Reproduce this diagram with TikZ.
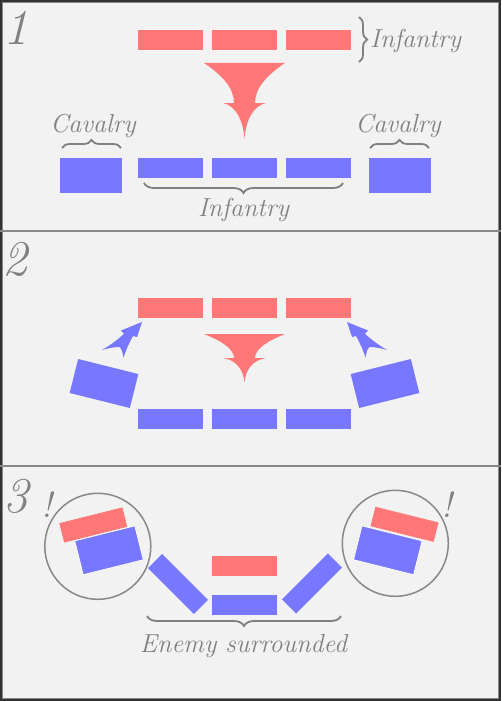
\documentclass[tikz,border=0pt]{standalone}
\usepackage{fontspec}
\usetikzlibrary{decorations.pathreplacing}
\definecolor{redu}{RGB}{255,119,119}
\definecolor{blueu}{RGB}{119,119,255}
\definecolor{txtgray}{RGB}{128,128,128}
\definecolor{bggray}{RGB}{242,242,242}
\definecolor{linegray}{RGB}{136,136,136}
\newcommand\funnelarrow[3]{%
  \pgfmathsetmacro\arwA{#1+0.3*(#2-#1)}%
  \pgfmathsetmacro\arwB{#1+0.625*(#2-#1)}%
  \pgfmathsetmacro\arwC{#2+0.08*(#3-#2)}%
  \pgfmathsetmacro\arwD{#2+0.47*(#3-#2)}%
  \fill[redu] (204,#1) -- (285,#1) .. controls (267,\arwA) and (255,\arwB) .. (255,#2)
    -- (266,#2) .. controls (253,\arwC) and (246,\arwD) .. (244.5,#3)
    .. controls (243,\arwD) and (236,\arwC) .. (223,#2)
    -- (234,#2) .. controls (234,\arwB) and (222,\arwA) .. (204,#1) -- cycle;}
\begin{document}
\begin{tikzpicture}[x=1pt,y=-1pt,
  redbox/.style={fill=redu, minimum width=65pt, minimum height=20pt, inner sep=0pt, outer sep=0pt},
  bluebox/.style={fill=blueu, minimum width=65pt, minimum height=20pt, inner sep=0pt, outer sep=0pt},
  cavbox/.style={fill=blueu, minimum width=62pt, minimum height=35pt, inner sep=0pt, outer sep=0pt},
  lbl/.style={text=txtgray, font=\fontsize{26}{30}\selectfont\itshape, inner sep=0pt},
  num/.style={text=txtgray, font=\fontsize{50}{55}\selectfont\itshape, inner sep=0pt, anchor=base west},
  bang/.style={text=txtgray, font=\fontsize{36}{40}\selectfont\itshape, inner sep=0pt, anchor=base},
  bracedeco/.style={draw=txtgray, line width=1.8pt, decorate, decoration={brace, amplitude=#1}},
  bracedeco/.default=8,
  ring/.style={draw=linegray, line width=1.5pt},
  bluearrow/.style={fill=blueu},
]
\useasboundingbox (0,0) rectangle (501,701);
\fill[bggray] (0,0) rectangle (501,701);
% frame and dividers
\draw[linegray, line width=1pt] (2.5,2.5) rectangle (498.5,698.5);
\draw[black!80, line width=1.6pt] (0.8,0.8) rectangle (500.2,700.2);
\draw[linegray, line width=2.2pt] (0,231) -- (501,231);
\draw[linegray, line width=2.2pt] (0,466) -- (501,466);

% ---------- Panel 1 ----------
\node[num] (n1) at (3,45) {1};
\node[redbox] (r11) at (170.5,40) {};
\node[redbox] (r12) at (244.5,40) {};
\node[redbox] (r13) at (318.5,40) {};
\draw[bracedeco=8] (359,17) -- (359,62);
\node[lbl, anchor=base west] (inftop) at (370,48) {Infantry};
\funnelarrow{63}{103}{139}
\node[cavbox] (c1l) at (91,175.5) {};
\node[bluebox] (b11) at (170.5,168) {};
\node[bluebox] (b12) at (244.5,168) {};
\node[bluebox] (b13) at (318.5,168) {};
\node[cavbox] (c1r) at (400,175.5) {};
\node[lbl, anchor=base] (cavl) at (93,132) {Cavalry};
\node[lbl, anchor=base] (cavr) at (398,132) {Cavalry};
\draw[bracedeco=8] (62,148) -- (121,148);
\draw[bracedeco=8] (370,148) -- (429,148);
\draw[bracedeco=10] (343,183) -- (144,183);
\node[lbl, anchor=base] (infbot) at (243.5,216) {Infantry};

% ---------- Panel 2 ----------
\node[num] (n2) at (2,275) {2};
\node[redbox] (r21) at (170.5,308) {};
\node[redbox] (r22) at (244.5,308) {};
\node[redbox] (r23) at (318.5,308) {};
\funnelarrow{334}{358}{382}
\node[cavbox, rotate=-14] (c2l) at (104,383.5) {};
\node[cavbox, rotate=14] (c2r) at (385,383.5) {};
\node[bluebox] (b21) at (170.5,419) {};
\node[bluebox] (b22) at (244.5,419) {};
\node[bluebox] (b23) at (318.5,419) {};
\fill[bluearrow] (102,350) .. controls (112,344) and (120,338) .. (124,333.5) -- (121,330.5) -- (142,322)
  -- (137,337) -- (133,336) .. controls (129,343) and (126,350) .. (123.5,357.5)
  .. controls (122.5,352) and (121.5,348.5) .. (119.5,347) .. controls (113,347) and (107,348.5) .. cycle;
\begin{scope}[shift={(489,0)}, xscale=-1]
\fill[bluearrow] (102,350) .. controls (112,344) and (120,338) .. (124,333.5) -- (121,330.5) -- (142,322)
  -- (137,337) -- (133,336) .. controls (129,343) and (126,350) .. (123.5,357.5)
  .. controls (122.5,352) and (121.5,348.5) .. (119.5,347) .. controls (113,347) and (107,348.5) .. cycle;
\end{scope}

% ---------- Panel 3 ----------
\node[num] (n3) at (3,512) {3};
\node[bang] (bangl) at (47,517) {!};
\node[bang] (bangr) at (447,517) {!};
\node[redbox, rotate=14] (r3l) at (93.3,525) {};
\node[cavbox, rotate=14, draw=white, line width=0.8pt] (c3l) at (109,550.3) {};
\node[redbox, rotate=-14] (r3r) at (404.5,524.3) {};
\node[cavbox, rotate=-14, draw=white, line width=0.8pt] (c3r) at (387.8,550.3) {};
\node[ring, circle, minimum size=106pt, inner sep=0pt] (ringl) at (97.8,546.3) {};
\node[ring, circle, minimum size=106pt, inner sep=0pt] (ringr) at (395.3,543.3) {};
\node[bluebox, rotate=-45] (d3l) at (178,584) {};
\node[bluebox, rotate=45] (d3r) at (312,583.5) {};
\node[redbox] (r3m) at (244.5,566) {};
\node[bluebox] (b3m) at (244.5,605) {};
\draw[bracedeco=10] (341,616) -- (147,616);
\node[lbl, anchor=base] (enemy) at (243.5,652) {Enemy surrounded};
\end{tikzpicture}
\end{document}
